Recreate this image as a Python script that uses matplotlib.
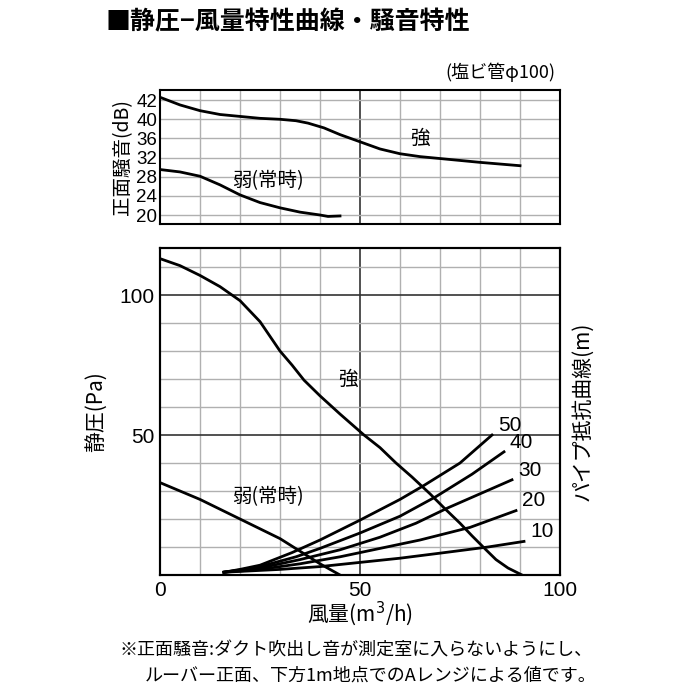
import matplotlib
matplotlib.use("Agg")
import matplotlib.pyplot as plt
import numpy as np

plt.rcParams['font.family'] = ['Noto Sans CJK JP', 'DejaVu Sans']

# Noise (dB) vs airflow
noise_strong_x = [0, 5, 10, 15, 20, 25, 30, 34, 37, 41, 45, 50, 55, 60, 65, 70, 80, 90]
noise_strong_db = [42.3, 41.5, 40.9, 40.5, 40.3, 40.1, 40.0, 39.7, 39.2, 38.2, 36.8, 35.3, 33.8, 32.8, 32.2, 31.8, 31.0, 30.3]
noise_weak_x = [0, 5, 10, 15, 20, 25, 30, 35, 40, 42, 45]
noise_weak_db = [29.5, 29.0, 28.1, 26.3, 24.2, 22.6, 21.5, 20.6, 20.0, 19.7, 19.8]
db_ticks = [20, 24, 28, 32, 36, 40, 42]

# Static pressure vs airflow
ps_strong_x = [0, 5, 10, 15, 20, 25, 30, 33, 36, 40, 45, 51, 55, 59, 63, 67.5, 71, 75, 78, 81.5, 84, 87, 90.5]
ps_strong_y = [113, 110.5, 107, 103, 98, 90.5, 80, 75, 69.6, 64, 57.5, 50, 45.5, 40, 35, 29, 24, 18.5, 14, 9, 5.5, 2.5, 0]
ps_weak_x = [0, 10, 20, 30, 40, 45]
ps_weak_y = [33, 27, 20, 13, 4, 0]

pipe = {
    50: ([16, 20, 25, 33, 40, 50, 60, 66, 75, 83], [1, 2, 3.5, 8, 12.5, 19.6, 27, 32, 40, 50]),
    40: ([16, 20, 25, 34, 40, 50, 60, 69, 78, 86], [1, 1.8, 3, 6.5, 9.5, 15, 21, 28, 36, 44]),
    30: ([16, 25, 35, 45, 55, 64, 72, 80, 88], [1, 2.5, 5.5, 9, 13.5, 18.5, 24, 29, 34]),
    20: ([16, 25, 35, 45, 55, 65, 77.5, 89], [1, 2, 4, 6.5, 9.5, 12.5, 17, 23]),
    10: ([16, 30, 40, 50, 60, 70, 82, 91], [1, 2, 3, 4.5, 6, 7.8, 10, 12]),
}

def db2pos(d):
    d = np.asarray(d, float)
    return np.where(d >= 40, 5 + (d - 40) / 2, (d - 20) / 4)

fig = plt.figure(figsize=(7, 7), dpi=100)
gcol = '#b0b0b0'

# top axes
ax1 = fig.add_axes([160/700, 1-224/700, 400/700, 134/700])
ax1.set_xlim(0, 100)
ax1.set_ylim(-0.47, 6.53)
for xv in range(10, 100, 10):
    ax1.axvline(xv, color='#333333' if xv == 50 else gcol, lw=1.2 if xv == 50 else 1.0, zorder=1)
for i in range(7):
    ax1.axhline(i, color=gcol, lw=1.0, zorder=1)
ax1.plot(noise_strong_x, db2pos(noise_strong_db), color='black', lw=2, zorder=3)
ax1.plot(noise_weak_x, db2pos(noise_weak_db), color='black', lw=2, zorder=3)
ax1.set_xticks([])
ax1.set_yticks(db2pos(db_ticks))
ax1.set_yticklabels([str(v) for v in db_ticks], fontsize=13.5, family=['Liberation Sans'])
ax1.tick_params(axis='y', length=0, pad=2)
ax1.set_ylabel('正面騒音(dB)', fontsize=14, labelpad=2)
ax1.text(65, 4.0, '強', fontsize=14, ha='center', va='center')
ax1.text(27, 1.8, '弱(常時)', fontsize=14, ha='center', va='center')
for s in ax1.spines.values():
    s.set_linewidth(1.5)

# bottom axes
ax2 = fig.add_axes([160/700, 125/700, 400/700, 327/700])
ax2.set_xlim(0, 100)
ax2.set_ylim(0, 116.8)
for xv in range(10, 100, 10):
    ax2.axvline(xv, color='#333333' if xv == 50 else gcol, lw=1.2 if xv == 50 else 1.0, zorder=1)
for yv in range(10, 117, 10):
    ax2.axhline(yv, color='#333333' if yv in (50, 100) else gcol, lw=1.2 if yv in (50, 100) else 1.0, zorder=1)
ax2.plot(ps_strong_x, ps_strong_y, color='black', lw=2, zorder=3)
ax2.plot(ps_weak_x, ps_weak_y, color='black', lw=2, zorder=3)
for k, (xs, ys) in pipe.items():
    ax2.plot(xs, ys, color='black', lw=2, zorder=3)
    ax2.text(xs[-1] + 1.5, ys[-1] + 3.5, str(k), fontsize=15, ha='left', va='center', family=['Liberation Sans'])
ax2.text(47, 70, '強', fontsize=14, ha='center', va='center')
ax2.text(27, 28, '弱(常時)', fontsize=14, ha='center', va='center')
ax2.set_xticks([0, 50, 100])
ax2.set_xticklabels(['0', '50', '100'], fontsize=15, family=['Liberation Sans'])
ax2.set_yticks([50, 100])
ax2.set_yticklabels(['50', '100'], fontsize=15, family=['Liberation Sans'])
ax2.tick_params(length=0, pad=4)
ax2.set_xlabel('風量(m$^3$/h)', fontsize=15, labelpad=0)
ax2.set_ylabel('静圧(Pa)', fontsize=15, labelpad=8)
ax2r = ax2.twinx()
ax2r.set_yticks([])
ax2r.set_ylabel('パイプ抵抗曲線(m)', fontsize=15, labelpad=8)
for s in list(ax2.spines.values()) + list(ax2r.spines.values()):
    s.set_linewidth(1.5)

fig.text(105/700, 1-22/700, '■静圧−風量特性曲線・騒音特性', fontsize=18, fontweight='bold', va='center', ha='left')
fig.text(555/700, 1-72/700, '(塩ビ管φ100)', fontsize=13, va='center', ha='right')
fig.text(120/700, 1-651/700, '※正面騒音:ダクト吹出し音が測定室に入らないようにし、', fontsize=13, va='center', ha='left')
fig.text(145/700, 1-676/700, 'ルーバー正面、下方1m地点でのAレンジによる値です。', fontsize=13, va='center', ha='left')

fig.savefig('out.png', dpi=100)
